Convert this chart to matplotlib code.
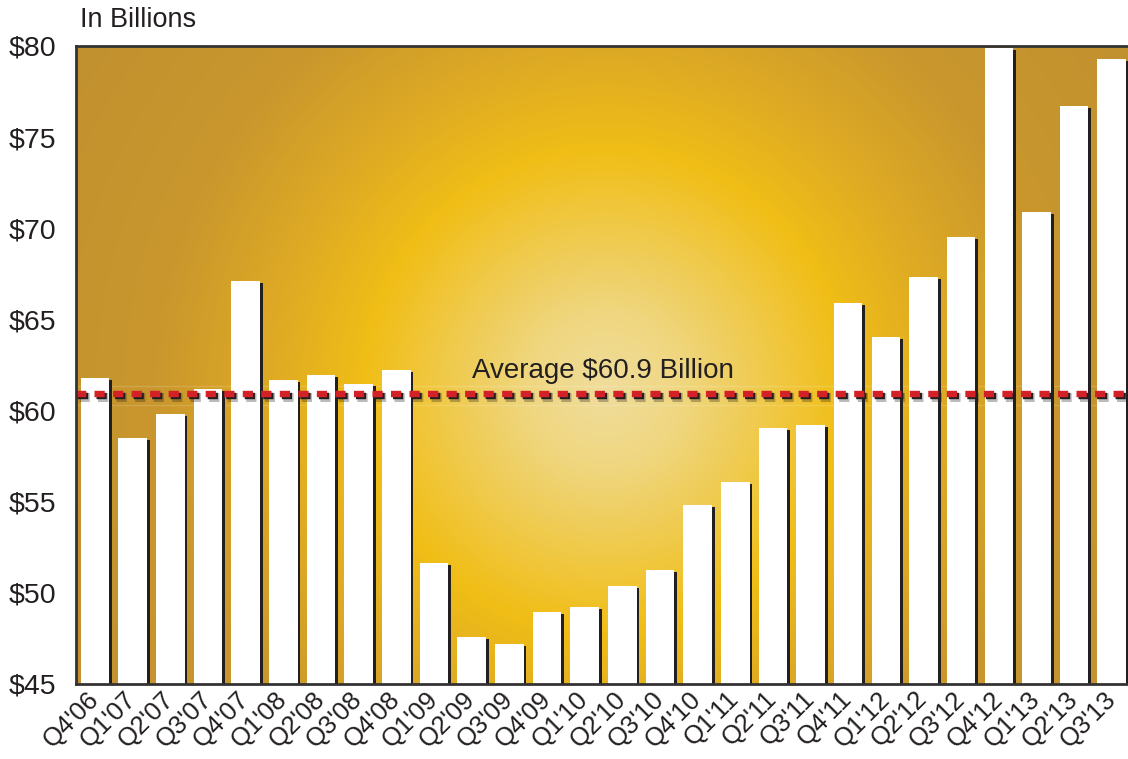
import numpy as np
import matplotlib
matplotlib.use("Agg")
import matplotlib.pyplot as plt
from matplotlib.colors import LinearSegmentedColormap
import matplotlib.patheffects as pe

quarters = ["Q4'06", "Q1'07", "Q2'07", "Q3'07", "Q4'07", "Q1'08", "Q2'08", "Q3'08",
            "Q4'08", "Q1'09", "Q2'09", "Q3'09", "Q4'09", "Q1'10", "Q2'10", "Q3'10",
            "Q4'10", "Q1'11", "Q2'11", "Q3'11", "Q4'11", "Q1'12", "Q2'12", "Q3'12",
            "Q4'12", "Q1'13", "Q2'13", "Q3'13"]
values = [61.8, 58.5, 59.8, 61.2, 67.1, 61.7, 61.95, 61.45,
          62.2, 51.65, 47.6, 47.2, 48.95, 49.25, 50.4, 51.25,
          54.8, 56.1, 59.05, 59.2, 65.9, 64.05, 67.35, 69.5,
          79.9, 70.9, 76.7, 79.3]
average = 60.9
yticks = [45, 50, 55, 60, 65, 70, 75, 80]

W, H = 1128, 759
fig = plt.figure(figsize=(W / 100, H / 100), dpi=100)
fig.patch.set_facecolor("white")
ax = fig.add_axes([76 / W, 1 - 684 / H, 1 - 76 / W, (684 - 46) / H])

x = np.arange(len(values))
xlim = (-0.504, 27.43)
ylim = (45, 80)
ax.set_xlim(*xlim)
ax.set_ylim(*ylim)

# radial gradient background (in pixel space)
pw, ph = W - 76, 684 - 46
gx, gy = np.meshgrid(np.arange(pw), np.arange(ph))
cx, cy = 605 - 76, 390 - 46
r = np.sqrt((gx - cx) ** 2 + (gy - cy) ** 2)
stops = [(0, "#EFDD9C"), (80, "#EFD67E"), (170, "#F0C843"), (240, "#F0BE16"),
         (330, "#DFAB24"), (450, "#C9972D"), (600, "#C3922F"), (800, "#C3922F")]
rmax = stops[-1][0]
cmap = LinearSegmentedColormap.from_list("g", [(s / rmax, c) for s, c in stops])
ax.imshow(r / rmax, cmap=cmap, vmin=0, vmax=1, extent=[xlim[0], xlim[1], ylim[0], ylim[1]],
          aspect="auto", origin="upper", zorder=0, interpolation="bilinear")

# faint light band lines around average
ax.axhline(average + 0.45, color="white", alpha=0.15, lw=1, zorder=1)
ax.axhline(average - 0.6, color="white", alpha=0.15, lw=1, zorder=1)

bw = 0.76
ax.bar(x + 0.075, np.array(values) - 0.11, width=bw, bottom=0, color="#231F20", zorder=2)
ax.bar(x, values, width=bw, bottom=0, color="white", zorder=3)

line, = ax.plot(xlim, [average, average], color="#D42027", lw=4.6, zorder=5,
                dashes=(1.6, 1.3), solid_capstyle="butt", dash_capstyle="butt")
line.set_path_effects([
    pe.SimpleLineShadow(offset=(1.8, -2.2), shadow_color="#231F20", alpha=0.3, linewidth=6.5),
    pe.SimpleLineShadow(offset=(1.1, -1.5), shadow_color="#231F20", alpha=1.0),
    pe.Normal()])

ax.text(13.5, average + 0.9, "Average $60.9 Billion", fontsize=20, color="#231F20",
        ha="center", va="baseline", zorder=6, family="Liberation Sans")

ax.set_yticks(yticks)
ax.set_yticklabels(["$%d" % v for v in yticks], fontsize=20.5, color="#231F20",
                   family="Liberation Sans")
ax.set_xticks(x)
ax.set_xticklabels(quarters, rotation=45, ha="right", va="center", rotation_mode="anchor",
                   fontsize=18.5, color="#231F20", family="Liberation Sans")
ax.tick_params(axis="y", length=0, pad=14)
ax.tick_params(axis="x", length=0, pad=8)

for s in ["left", "top", "bottom"]:
    ax.spines[s].set_color("#333333")
    ax.spines[s].set_linewidth(2.0)
    ax.spines[s].set_zorder(7)
ax.spines["right"].set_visible(False)

fig.text(80 / W, 1 - 27 / H, "In Billions", fontsize=19.5, color="#231F20",
         ha="left", va="baseline", family="Liberation Sans")

fig.savefig("out.png", dpi=100)
